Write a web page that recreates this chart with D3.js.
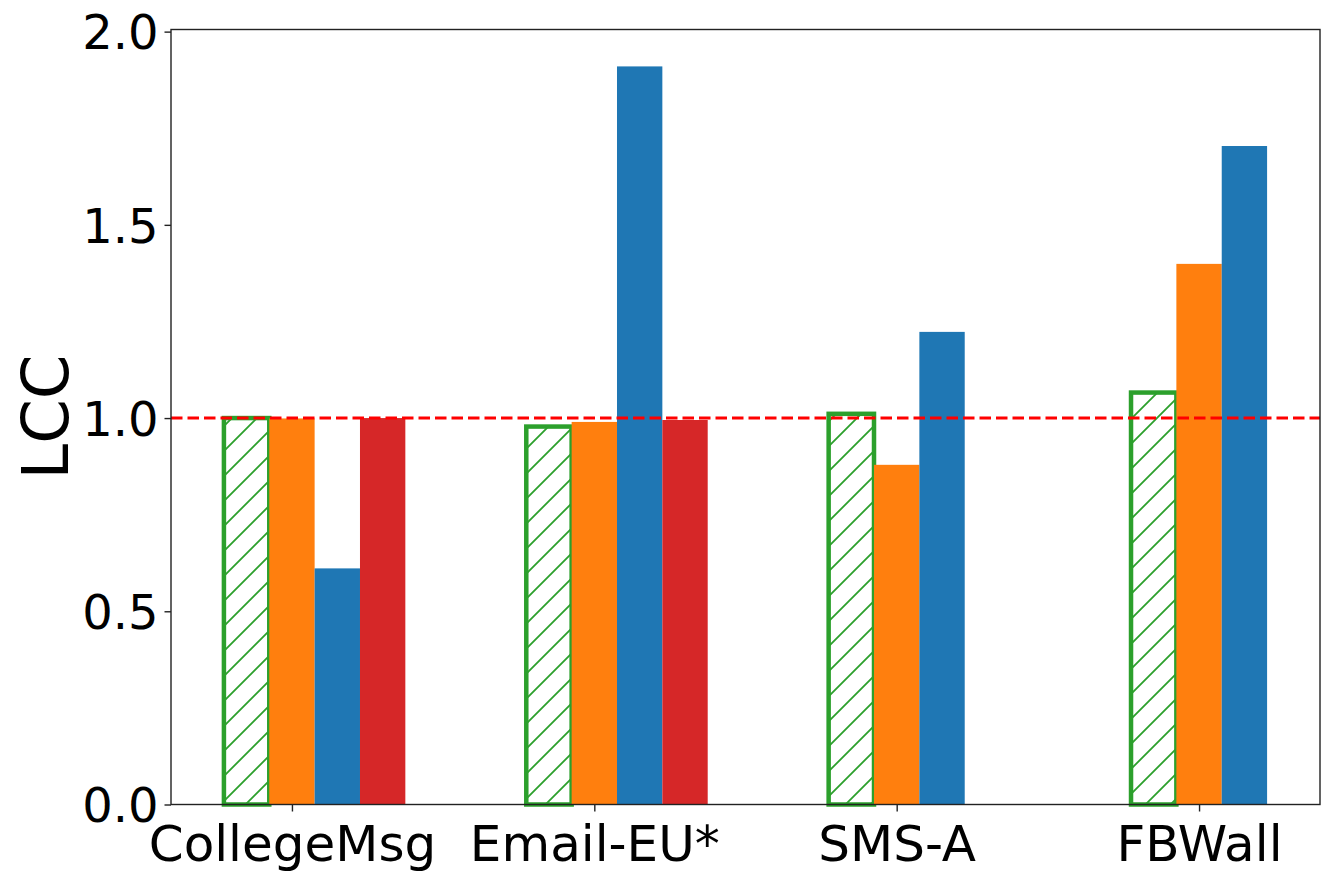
<!DOCTYPE html>
<html>
<head>
<meta charset="utf-8">
<script src="https://cdn.jsdelivr.net/npm/d3@7"></script>
<style>
  html, body { margin: 0; padding: 0; background: #fff; }
  svg { display: block; font-family: "DejaVu Sans", sans-serif; }
</style>
</head>
<body>
<svg id="chart" width="1334" height="883"></svg>
<script>
// ---- data ----
const categories = ["CollegeMsg", "Email-EU*", "SMS-A", "FBWall"];
const seriesNames = ["hatched", "orange", "blue", "red"];
const hatchedValues = [1.000, 0.978, 1.011, 1.066];
const orangeValues  = [0.999, 0.990, 0.879, 1.399];
const blueValues    = [0.611, 1.910, 1.223, 1.704];
const redValues     = [1.000, 0.995, null, null];
const yTicks = [0.0, 0.5, 1.0, 1.5, 2.0];
const yLabel = "LCC";
const refLineValue = 1.0;

// ---- layout ----
const svg = d3.select("#chart");
const plotLeft = 171, plotRight = 1320, plotTop = 29.5, plotBottom = 804.5;
const barW = 0.15;
const offsets = [-0.15, 0, 0.15, 0.30];
const colors = ["#2ca02c", "#ff7f0e", "#1f77b4", "#d62728"];

const x = d3.scaleLinear().domain([-0.4, 3.4]).range([plotLeft, plotRight]);
const y = d3.scaleLinear().domain([0, 2.0055]).range([plotBottom, plotTop]);

// hatch pattern
const defs = svg.append("defs");
const pat = defs.append("pattern")
  .attr("id", "hatch").attr("patternUnits", "userSpaceOnUse")
  .attr("width", 25).attr("height", 25);
pat.append("rect").attr("width", 25).attr("height", 25).attr("fill", "#fff");
pat.append("path")
  .attr("d", "M-3,28 L28,-3 M-3,3 L3,-3 M22,28 L28,22")
  .attr("stroke", colors[0]).attr("stroke-width", 1.8).attr("fill", "none");

const allSeries = [hatchedValues, orangeValues, blueValues, redValues];
const g = svg.append("g");

allSeries.forEach((vals, si) => {
  const data = vals.map((v, i) => ({ i, v })).filter(d => d.v != null);
  g.selectAll(".bar-" + si).data(data).enter().append("rect")
    .attr("class", "bar-" + si)
    .attr("x", d => x(d.i + offsets[si] - barW / 2))
    .attr("width", d => x(d.i + offsets[si] + barW / 2) - x(d.i + offsets[si] - barW / 2))
    .attr("y", d => y(d.v))
    .attr("height", d => y(0) - y(d.v))
    .attr("fill", si === 0 ? "url(#hatch)" : colors[si])
    .attr("stroke", si === 0 ? colors[0] : "none")
    .attr("stroke-width", si === 0 ? 4.5 : 0);
});

// reference line
svg.append("line")
  .attr("x1", plotLeft).attr("x2", plotRight)
  .attr("y1", y(refLineValue)).attr("y2", y(refLineValue))
  .attr("stroke", "#ff0000").attr("stroke-width", 3.1)
  .attr("stroke-dasharray", "11.5 5");

// axes
const yAxis = d3.axisLeft(y).tickValues(yTicks).tickFormat(d3.format(".1f")).tickSize(6.5).tickPadding(6);
const xAxis = d3.axisBottom(x).tickValues(d3.range(categories.length)).tickFormat(i => categories[i]).tickSize(7).tickPadding(10);

const ya = svg.append("g").attr("transform", `translate(${plotLeft},0)`).call(yAxis);
const xa = svg.append("g").attr("transform", `translate(0,${plotBottom})`).call(xAxis);
[ya, xa].forEach(a => {
  a.select(".domain").remove();
  a.selectAll(".tick line").attr("stroke", "#222").attr("stroke-width", 1.4);
  a.selectAll(".tick text").attr("fill", "#000").style("font-family", "DejaVu Sans").style("font-size", "48px");
});
xa.selectAll(".tick text").attr("dy", null).attr("y", 56).style("font-size", "50px");
ya.selectAll(".tick text").attr("dy", "0.36em");

// frame
svg.append("rect").attr("x", plotLeft).attr("y", plotTop)
  .attr("width", plotRight - plotLeft).attr("height", plotBottom - plotTop)
  .attr("fill", "none").attr("stroke", "#222").attr("stroke-width", 1.4);

// y label
svg.append("text")
  .attr("transform", `translate(68,${(plotTop + plotBottom) / 2}) rotate(-90)`)
  .attr("text-anchor", "middle")
  .style("font-family", "DejaVu Sans").style("font-size", "64px")
  .text(yLabel);
</script>
</body>
</html>
